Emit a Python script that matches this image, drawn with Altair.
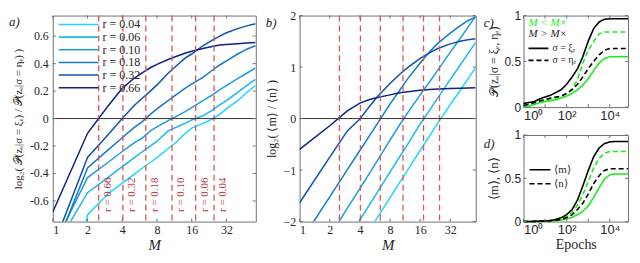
import altair as alt
import pandas as pd

SERIF = "Liberation Serif"
SANS = "Liberation Sans"
RED = "#dd5555"
RED_TXT = "#b8353f"
GREEN = "#1ee81e"
INK = "#262626"
TICK = "#707070"

# ---------------- data: panels a and b ----------------
R_LABELS = ["r = 0.04", "r = 0.06", "r = 0.10", "r = 0.18", "r = 0.32", "r = 0.66"]
R_COLORS = ["#1fd6ff", "#19b9f0", "#1a9de0", "#1479cc", "#0f52ae", "#0b2385"]
M_CROSS = [25.0, 17.3, 10.8, 6.4, 4.05, 2.5]
M_TICKS = [1, 2, 4, 8, 16, 32]
A_TICKS = [-0.6, -0.4, -0.2, 0, 0.2, 0.4, 0.6]
A_TICK_LABELS = ["-0.6", "-0.4", "-0.2", "0", "0.2", "0.4", "0.6"]
B_TICKS = [-2, -1, 0, 1, 2]

M_A = [1, 2, 3, 4, 5, 6, 7, 8, 10, 12, 14, 16, 20, 24, 28, 32, 40, 48, 57]
A_004 = [-2.0, -0.70, -0.55, -0.47, -0.41, -0.36, -0.32, -0.285, -0.22, -0.165, -0.11, -0.07, -0.035, -0.005, 0.03, 0.07, 0.13, 0.19, 0.24]
A_006 = [-0.97, -0.54, -0.43, -0.35, -0.29, -0.24, -0.20, -0.165, -0.09, -0.06, -0.035, -0.01, 0.02, 0.06, 0.10, 0.13, 0.19, 0.24, 0.285]
A_010 = [-0.94, -0.43, -0.32, -0.24, -0.18, -0.14, -0.09, -0.06, -0.015, 0.02, 0.05, 0.08, 0.13, 0.17, 0.21, 0.24, 0.29, 0.33, 0.367]
A_018 = [-0.99, -0.36, -0.23, -0.14, -0.07, -0.02, 0.03, 0.07, 0.13, 0.18, 0.22, 0.25, 0.30, 0.35, 0.39, 0.42, 0.47, 0.505, 0.53]
A_032 = [-0.94, -0.283, -0.12, 0.0, 0.09, 0.15, 0.20, 0.245, 0.33, 0.39, 0.44, 0.47, 0.53, 0.57, 0.60, 0.625, 0.655, 0.675, 0.69]
A_066 = [-0.68, -0.107, 0.09, 0.22, 0.29, 0.335, 0.37, 0.395, 0.43, 0.455, 0.475, 0.49, 0.51, 0.525, 0.535, 0.54, 0.545, 0.55, 0.553]

M_B = [1, 2, 3, 4, 5, 6, 8, 10, 12, 16, 20, 24, 32, 40, 48, 57]
B_004 = [-4.3, -3.4, -2.9, -2.45, -2.16, -1.92, -1.54, -1.24, -1.0, -0.62, -0.33, -0.09, 0.27, 0.54, 0.77, 0.98]
B_006 = [-3.83, -2.9, -2.36, -1.97, -1.67, -1.43, -1.04, -0.74, -0.5, -0.11, 0.17, 0.4, 0.76, 1.03, 1.26, 1.47]
B_010 = [-3.23, -2.29, -1.74, -1.36, -1.06, -0.81, -0.42, -0.12, 0.11, 0.46, 0.72, 0.94, 1.29, 1.55, 1.77, 1.98]
B_018 = [-2.42, -1.52, -0.99, -0.62, -0.33, -0.095, 0.28, 0.55, 0.77, 1.08, 1.3, 1.46, 1.66, 1.8, 1.9, 1.97]
B_032 = [-1.636, -0.75, -0.24, -0.01, 0.24, 0.43, 0.68, 0.86, 0.99, 1.17, 1.28, 1.36, 1.45, 1.5, 1.53, 1.55]
B_066 = [-0.6, -0.14, 0.15, 0.3, 0.37, 0.41, 0.46, 0.5, 0.52, 0.55, 0.565, 0.575, 0.585, 0.59, 0.595, 0.6]

# ---------------- data: panels c and d ----------------
EPOCHS = [1, 1.8, 3.2, 5.6, 10, 18, 32, 56, 100, 180, 320, 560, 1000, 1800, 3200, 5600, 10000, 18000, 32000, 70000]
E_TICKS = [1, 10, 100, 1000, 10000]
U_TICKS = [0, 0.5, 1]
C_BLACK_XI = [0.04, 0.05, 0.06, 0.09, 0.11, 0.13, 0.16, 0.19, 0.25, 0.33, 0.42, 0.55, 0.72, 0.86, 0.93, 0.96, 0.965, 0.965, 0.965, 0.965]
C_BLACK_ETA = [0.02, 0.03, 0.05, 0.07, 0.08, 0.10, 0.11, 0.12, 0.15, 0.19, 0.25, 0.33, 0.42, 0.50, 0.57, 0.62, 0.64, 0.64, 0.64, 0.64]
C_GREEN_XI = [0.0, 0.01, 0.03, 0.05, 0.06, 0.07, 0.08, 0.10, 0.12, 0.15, 0.19, 0.24, 0.31, 0.40, 0.48, 0.53, 0.55, 0.55, 0.55, 0.55]
C_GREEN_ETA = [0.02, 0.03, 0.04, 0.06, 0.07, 0.09, 0.10, 0.12, 0.15, 0.20, 0.30, 0.48, 0.62, 0.72, 0.80, 0.82, 0.82, 0.82, 0.82, 0.82]

D_BLACK_M = [0, 0, 0.002, 0.005, 0.008, 0.012, 0.025, 0.045, 0.08, 0.14, 0.25, 0.41, 0.59, 0.75, 0.85, 0.90, 0.92, 0.925, 0.925, 0.925]
D_BLACK_N = [0, 0, 0.002, 0.004, 0.006, 0.01, 0.015, 0.028, 0.045, 0.08, 0.14, 0.21, 0.32, 0.44, 0.53, 0.59, 0.61, 0.61, 0.61, 0.61]
D_GREEN_M = [0, 0, 0.001, 0.003, 0.005, 0.008, 0.01, 0.018, 0.03, 0.05, 0.08, 0.12, 0.18, 0.28, 0.39, 0.49, 0.54, 0.55, 0.55, 0.55]
D_GREEN_N = [0, 0, 0.002, 0.004, 0.007, 0.011, 0.02, 0.035, 0.06, 0.11, 0.19, 0.31, 0.46, 0.62, 0.73, 0.79, 0.81, 0.81, 0.81, 0.81]

GROUPS = ["M < M×", "M > M×"]
SIGMAS = ["xi", "eta"]


def long_rm(ms, series):
    rows = []
    for lab, vals in zip(R_LABELS, series):
        for m, v in zip(ms, vals):
            rows.append({"M": m, "v": v, "r": lab})
    return pd.DataFrame(rows)


df_a = long_rm(M_A, [A_004, A_006, A_010, A_018, A_032, A_066])
df_b = long_rm(M_B, [B_004, B_006, B_010, B_018, B_032, B_066])
df_cross = pd.DataFrame({"M": M_CROSS, "lab": R_LABELS})


def long_ep(items):
    rows = []
    for grp, sig, vals in items:
        for e, v in zip(EPOCHS, vals):
            rows.append({"E": e, "v": v, "grp": grp, "sig": sig})
    return pd.DataFrame(rows)


df_c = long_ep([(GROUPS[0], "xi", C_GREEN_XI), (GROUPS[0], "eta", C_GREEN_ETA),
                (GROUPS[1], "xi", C_BLACK_XI), (GROUPS[1], "eta", C_BLACK_ETA)])
df_d = long_ep([(GROUPS[0], "xi", D_GREEN_M), (GROUPS[0], "eta", D_GREEN_N),
                (GROUPS[1], "xi", D_BLACK_M), (GROUPS[1], "eta", D_BLACK_N)])

ONE = pd.DataFrame({"k": [0]})

# ---------------- shared helpers ----------------
M_SCALE = alt.Scale(type="log", base=2, domain=[1, 57.5], nice=False)
E_SCALE = alt.Scale(type="log", domain=[1, 70000], nice=False)
AX_COMMON = dict(ticks=False, domain=False, grid=False, labelColor=INK, titleColor=INK,
                 labelOverlap=False, titleFontWeight="normal")


def X_M():
    return alt.X("M:Q", scale=M_SCALE, axis=alt.Axis(
        values=M_TICKS, format="d", title="M", titleFont=SERIF, titleFontStyle="italic",
        titleFontSize=15, titlePadding=2, labelFont=SERIF, labelFontSize=12, labelPadding=3,
        **AX_COMMON))


def tick_layers(xenc_fn, xvals, yenc_fn, yvals, w, h, xfield, yfield, n=3):
    dfx = pd.DataFrame({xfield: xvals})
    dfy = pd.DataFrame({yfield: yvals})
    return [
        alt.Chart(dfx).mark_rule(color=TICK, strokeWidth=1).encode(
            x=xenc_fn(), y=alt.value(h), y2=alt.value(h - n)),
        alt.Chart(dfx).mark_rule(color=TICK, strokeWidth=1).encode(
            x=xenc_fn(), y=alt.value(0), y2=alt.value(n)),
        alt.Chart(dfy).mark_rule(color=TICK, strokeWidth=1).encode(
            y=yenc_fn(), x=alt.value(0), x2=alt.value(n)),
        alt.Chart(dfy).mark_rule(color=TICK, strokeWidth=1).encode(
            y=yenc_fn(), x=alt.value(w), x2=alt.value(w - n)),
    ]


def panel_label(txt, dx, dy):
    return alt.Chart(ONE).mark_text(text=txt, font=SERIF, fontStyle="italic", fontSize=13,
                                    align="left", baseline="top", color=INK).encode(
        x=alt.value(dx), y=alt.value(dy))


def legend_rows(labels, colors, dashes, x0, x1, y0, step, fs=12, font=SERIF):
    layers = []
    for i, (lab, col, dash) in enumerate(zip(labels, colors, dashes)):
        y = y0 + step * i
        layers.append(alt.Chart(ONE).mark_rule(color=col, strokeWidth=1.6, strokeDash=dash).encode(
            x=alt.value(x0), x2=alt.value(x1), y=alt.value(y)))
        layers.append(alt.Chart(ONE).mark_text(text=lab, font=font, fontSize=fs, align="left",
                                               baseline="middle", color=INK).encode(
            x=alt.value(x1 + 4), y=alt.value(y)))
    return layers


R_COLOR = alt.Color("r:N", scale=alt.Scale(domain=R_LABELS, range=R_COLORS), legend=None)

# ---------------- panel a ----------------
WA, HA = 204, 207
title_a = "log₂( 𝒫(zₑ|σ = ξₑ) / 𝒫(zₑ|σ = ηₑ) )"


def Y_A():
    return alt.Y("v:Q", scale=alt.Scale(domain=[-0.75, 0.75], nice=False, zero=False), axis=alt.Axis(
        values=A_TICKS, labels=False, title=title_a, titleFont=SERIF, titleFontSize=11,
        titlePadding=29, **AX_COMMON))


lines_a = alt.Chart(df_a).mark_line(clip=True, strokeWidth=1.5).encode(x=X_M(), y=Y_A(), color=R_COLOR)
zero_a = alt.Chart(ONE).mark_rule(color="#333333", strokeWidth=1).encode(y=alt.datum(0))
dash_a = alt.Chart(df_cross).mark_rule(color=RED, strokeDash=[6, 4], strokeWidth=1.3).encode(x=X_M())
rtext_a = alt.Chart(df_cross).mark_text(angle=270, align="left", baseline="top", dy=3,
                                        font=SERIF, fontSize=11, color=RED_TXT).encode(
    x=X_M(), y=alt.datum(-0.68), text="lab:N")
ylab_a = alt.Chart(pd.DataFrame({"v": A_TICKS, "lab": A_TICK_LABELS})).mark_text(
    align="right", baseline="middle", font=SERIF, fontSize=12, color=INK).encode(
    x=alt.value(-4), y=Y_A(), text="lab:N")
leg_a = legend_rows(R_LABELS, R_COLORS, [[1, 0]] * 6, 6, 46, 9, 12.7)
ticks_a = tick_layers(X_M, M_TICKS, Y_A, A_TICKS, WA, HA, "M", "v")

panel_a = alt.layer(lines_a, dash_a, zero_a, rtext_a, ylab_a, *ticks_a, *leg_a,
                    panel_label("a)", -44, 0)).properties(width=WA, height=HA)

# ---------------- panel b ----------------
WB = 177


def Y_B():
    return alt.Y("v:Q", scale=alt.Scale(domain=[-2, 2], nice=False, zero=False), axis=alt.Axis(
        values=B_TICKS, format="d", title="log₂( ⟨m⟩ / ⟨n⟩ )", titleFont=SERIF, titleFontSize=12,
        titlePadding=4, labelFont=SERIF, labelFontSize=12, labelPadding=4, **AX_COMMON))


lines_b = alt.Chart(df_b).mark_line(clip=True, strokeWidth=1.5).encode(x=X_M(), y=Y_B(), color=R_COLOR)
zero_b = alt.Chart(ONE).mark_rule(color="#333333", strokeWidth=1).encode(y=alt.datum(0))
dash_b = alt.Chart(df_cross).mark_rule(color=RED, strokeDash=[6, 4], strokeWidth=1.3).encode(x=X_M())
ticks_b = tick_layers(X_M, M_TICKS, Y_B, B_TICKS, WB, HA, "M", "v")
panel_b = alt.layer(lines_b, dash_b, zero_b, *ticks_b, panel_label("b)", -34, 1)).properties(
    width=WB, height=HA)

# ---------------- panels c and d ----------------
WC, HC, HD = 105, 92, 87
ep_labels = "datum.value == 1 ? '10⁰' : datum.value == 100 ? '10²' : datum.value == 10000 ? '10⁴' : ''"


def X_E_c():
    return alt.X("E:Q", scale=E_SCALE, axis=alt.Axis(
        values=E_TICKS, labelExpr=ep_labels, labelFont=SANS, labelFontSize=13, labelPadding=2,
        title=None, **AX_COMMON))


def X_E_d():
    return alt.X("E:Q", scale=E_SCALE, axis=alt.Axis(
        values=E_TICKS, labelExpr=ep_labels, labelFont=SANS, labelFontSize=13, labelPadding=2,
        title="Epochs", titleFont=SERIF, titleFontSize=14, titlePadding=1, **AX_COMMON))


def make_Y_U(title, fs):
    def fn():
        return alt.Y("v:Q", scale=alt.Scale(domain=[0, 1], nice=False), axis=alt.Axis(
            values=U_TICKS, labelExpr="datum.value == 0.5 ? '0.5' : format(datum.value, 'd')",
            title=title, titleFont=SERIF, titleFontSize=fs, titlePadding=3,
            labelFont=SANS, labelFontSize=12, labelPadding=3, **AX_COMMON))
    return fn


def ep_lines(df, xfn, yfn):
    return alt.Chart(df).mark_line(strokeWidth=1.6).encode(
        x=xfn(), y=yfn(),
        color=alt.Color("grp:N", scale=alt.Scale(domain=GROUPS, range=[GREEN, "#000000"]), legend=None),
        strokeDash=alt.StrokeDash("sig:N", scale=alt.Scale(domain=SIGMAS, range=[[1, 0], [5, 3]]), legend=None),
    )


Y_C = make_Y_U("𝒫(zₑ|σ = ξₑ, ηₑ)", 12)
lines_c = ep_lines(df_c, X_E_c, Y_C)
leg_c = [
    alt.Chart(ONE).mark_text(text="M < M×", font=SERIF, fontStyle="italic", fontSize=11, align="left",
                             baseline="middle", color=GREEN).encode(x=alt.value(5), y=alt.value(7)),
    alt.Chart(ONE).mark_text(text="M > M×", font=SERIF, fontStyle="italic", fontSize=11, align="left",
                             baseline="middle", color=INK).encode(x=alt.value(5), y=alt.value(19)),
] + legend_rows(["σ = ξₑ", "σ = ηₑ"], ["#000000", "#000000"], [[1, 0], [5, 3]], 5, 25, 33, 12, fs=10)
ticks_c = tick_layers(X_E_c, E_TICKS, Y_C, U_TICKS, WC, HC, "E", "v")
panel_c = alt.layer(lines_c, *ticks_c, *leg_c, panel_label("c)", -40, 1)).properties(width=WC, height=HC)

Y_D = make_Y_U("⟨m⟩, ⟨n⟩", 13)
lines_d = ep_lines(df_d, X_E_d, Y_D)
leg_d = legend_rows(["⟨m⟩", "⟨n⟩"], ["#000000", "#000000"], [[1, 0], [5, 3]], 6, 27, 35, 14, fs=11)
ticks_d = tick_layers(X_E_d, E_TICKS, Y_D, U_TICKS, WC, HD, "E", "v")
panel_d = alt.layer(lines_d, *ticks_d, *leg_d, panel_label("d)", -40, 3)).properties(width=WC, height=HD)

RES = dict(x="independent", y="independent", color="independent", strokeDash="independent")
cd = alt.vconcat(panel_c, panel_d, spacing=28, bounds="flush").resolve_scale(**RES)
bcd = alt.hconcat(panel_b, cd, spacing=48, bounds="flush").resolve_scale(**RES)
chart = alt.hconcat(panel_a, bcd, spacing=44, bounds="flush").resolve_scale(**RES).properties(
    padding=0).configure_view(stroke="#707070", strokeWidth=1).configure_axis(labelOverlap=False)

chart.save("out.html", embed_options={"renderer": "svg", "actions": False})
